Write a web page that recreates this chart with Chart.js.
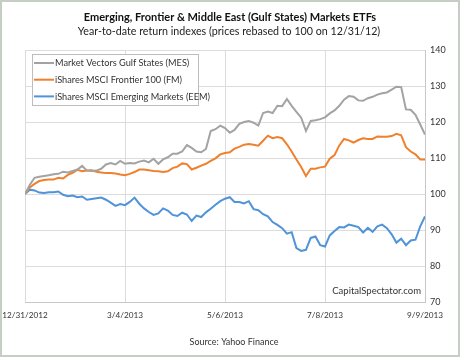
<!DOCTYPE html>
<html><head><meta charset="utf-8">
<script src="https://cdn.jsdelivr.net/npm/chart.js@4/dist/chart.umd.min.js"></script>
<style>html,body{margin:0;padding:0;background:#fff;}canvas{display:block;}</style>
</head><body>
<canvas id="c" width="460" height="357"></canvas>
<script>
// days since 12/31/2012
const days = [0,3,6,9,12,15,18,21,24,27,30,33,36,39,42,45,48,51,54,57,60,63,66,69,72,75,78,81,84,87,90,93,96,99,102,105,108,111,114,117,120,123,126,129,132,135,138,141,144,147,150,153,156,159,162,165,168,171,174,177,180,183,186,189,192,195,198,201,204,207,210,213,216,219,222,225,228,231,234,237,240,243,246,249,252];
const mes = [100,102.5,104.5,104.8,105,105.2,105.5,105.6,106.2,106,106.4,106.8,107.8,106.5,106.4,106.5,107,108.2,108.6,108.2,109.2,108.4,108.6,108.5,109,109.3,108.8,109.8,108.4,109.6,110.2,111.2,111.2,111.8,113.6,112.8,111.8,111.6,112.5,117.5,118,119,118.3,117,117.8,119.5,120,120.3,119.8,119,122.5,122.9,122.5,124.5,124.4,126.4,124.5,122.8,121.2,117.5,120.3,120.5,120.8,121.3,122.4,123.2,124.5,126.2,127.2,127,126,125.9,126.6,127,127.6,128,128.2,129,129.8,129.7,123.5,123.4,122,119.3,116.5];
const fm = [100,101.8,102.8,103.6,103.9,104,104,104.5,104.3,105.3,105.9,106.7,106.3,106.5,106.6,106.2,106,105.8,105.8,105.7,105.4,105.2,105.6,106.1,106.8,106.8,106.6,106.4,106.3,106.1,106.3,107.2,107.6,108.5,108.3,106.8,107.3,107.9,108.4,109.2,109.9,111,111.4,111.6,112.6,113.1,113.7,113.9,113.7,113.4,114.8,116.2,115.5,115.8,115.5,113.8,111.8,109.6,107.5,105,107,107,107.4,107.6,109.8,110.8,113.5,115.3,114.9,114.3,115,115.5,115.3,115.3,116,115.9,115.9,116.1,116.7,116.3,113,111.8,111,109.6,109.6];
const eem = [100,101.2,101,100.4,100.3,100.5,100.5,100.7,99.8,99.4,99.6,99.1,99.3,98.4,98.6,98.8,99,98.4,97.6,96.7,97.2,96.9,97.8,99,97.3,96,95,94.2,94.6,96,95.4,94.2,93.9,94.8,94.3,92.5,94,93.6,94.9,95.9,97,98,98.7,99.1,97.8,97.8,97.4,98,95.8,95.5,94.4,93.8,92.2,91.4,90.5,89,89.4,85,84.2,84.5,87.8,88.2,85.8,85.4,88.5,89.7,90.8,90.7,91.5,91.2,90.8,89.3,90.6,89.5,91,91.5,90.5,88.8,86.5,87.6,85.8,87.1,87.3,91,93.8];
const seriesNames = ['Market Vectors Gulf States (MES)','iShares MSCI Frontier 100 (FM)','iShares MSCI Emerging Markets (EEM)'];
const xTickLabels = ['12/31/2012','3/4/2013','5/6/2013','7/8/2013','9/9/2013'];
const xTickDays = [0,63,126,189,252];
const yTicks = [70,80,90,100,110,120,130,140];
const titleText = 'Emerging, Frontier & Middle East (Gulf States) Markets ETFs';
const subtitleText = 'Year-to-date return indexes (prices rebased to 100 on 12/31/12)';
const sourceText = 'Source: Yahoo Finance';
const watermarkText = 'CapitalSpectator.com';

const colors = ['#a3a3a3','#f0802c','#4f93d8'];
const FONT = 'Lato, "Liberation Sans", sans-serif';

function pts(vals){ return vals.map((v,i)=>({x:days[i], y:v})); }

const decor = {
  id:'decor',
  beforeDraw(chart){
    const ctx = chart.ctx;
    ctx.save();
    ctx.fillStyle='#fff';
    ctx.fillRect(0,0,chart.width,chart.height);
    ctx.restore();
  },
  afterDraw(chart){
    const ctx = chart.ctx;
    ctx.save();
    // outer border
    ctx.strokeStyle='#c5cdc5';
    ctx.lineWidth=2;
    ctx.strokeRect(1,1,chart.width-2,chart.height-2);
    // titles
    ctx.textAlign='center';
    ctx.textBaseline='middle';
    ctx.fillStyle='#111';
    ctx.font='bold 11px '+FONT;
    ctx.fillText(titleText, 230, 17);
    ctx.fillStyle='#222';
    ctx.font='10.7px '+FONT;
    ctx.fillText(subtitleText, 229, 32);
    // source
    ctx.fillStyle='#333';
    ctx.font='9px '+FONT;
    ctx.fillText(sourceText, 234, 342);
    // watermark
    ctx.textAlign='right';
    ctx.font='9.5px '+FONT;
    ctx.fillText(watermarkText, 421, 291);
    // legend
    const bx=32, by=54, bw=166, bh=51;
    ctx.fillStyle='#fff';
    ctx.fillRect(bx,by,bw,bh);
    ctx.strokeStyle='#bdbdbd';
    ctx.lineWidth=1;
    ctx.strokeRect(bx+0.5,by+0.5,bw,bh);
    ctx.textAlign='left';
    ctx.font='9.2px '+FONT;
    chart.data.datasets.forEach((ds,i)=>{
      const y = 63 + i*16.7;
      ctx.strokeStyle=ds.borderColor;
      ctx.lineWidth=2;
      ctx.beginPath(); ctx.moveTo(34,y); ctx.lineTo(54,y); ctx.stroke();
      ctx.fillStyle='#333';
      ctx.fillText(ds.label, 55, y+0.5);
    });
    ctx.restore();
  }
};

new Chart(document.getElementById('c'), {
  type:'line',
  data:{
    datasets:[
      {label:seriesNames[0], data:pts(mes), borderColor:colors[0]},
      {label:seriesNames[1], data:pts(fm), borderColor:colors[1]},
      {label:seriesNames[2], data:pts(eem), borderColor:colors[2]}
    ]
  },
  options:{
    responsive:false,
    animation:false,
    devicePixelRatio:1,
    layout:{padding:{top:50,left:25,right:0,bottom:30}},
    elements:{line:{borderWidth:2,tension:0},point:{radius:0}},
    plugins:{legend:{display:false},title:{display:false},tooltip:{enabled:false}},
    scales:{
      x:{
        type:'linear', min:0, max:252,
        afterBuildTicks(s){ s.ticks = xTickDays.map(v=>({value:v})); },
        afterFit(s){ s.height = 25; s.paddingLeft = 0; s.paddingRight = 0; },
        ticks:{
          callback:(v,i)=>xTickLabels[i],
          maxRotation:0, autoSkip:false, padding:8,
          color:'#333', font:{family:FONT,size:8.2}
        },
        grid:{color:'#dcdcdc', drawTicks:false},
        border:{color:'#c8c8c8'}
      },
      y:{
        position:'right', min:70, max:140,
        afterBuildTicks(s){ s.ticks = yTicks.map(v=>({value:v})); },
        afterFit(s){ s.width = 35; s.paddingTop = 0; s.paddingBottom = 0; },
        ticks:{padding:5, color:'#333', font:{family:FONT,size:9}},
        grid:{color:'#dcdcdc', drawTicks:false},
        border:{color:'#c8c8c8'}
      }
    }
  },
  plugins:[decor]
});
</script>
</body></html>
